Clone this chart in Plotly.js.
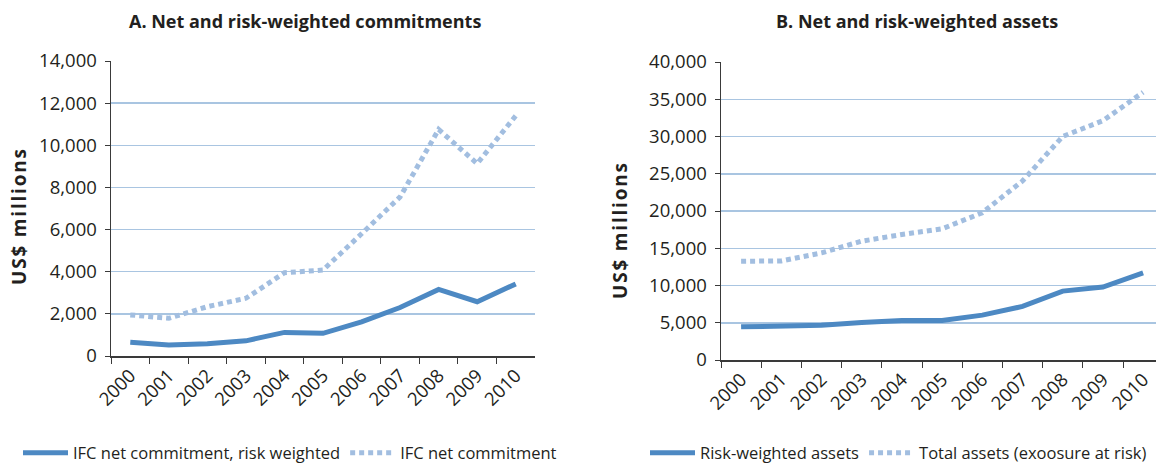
<!DOCTYPE html>
<html>
<head>
<meta charset="utf-8">
<script src="https://cdn.plot.ly/plotly-3.0.1.min.js"></script>
<style>
  html, body { margin: 0; padding: 0; background: #fff; overflow: hidden; }
  #chart { width: 1156px; height: 465px; }
</style>
</head>
<body>
<div id="chart"></div>
<script>
// ---- Data (US$ millions) ----
const years = ['2000','2001','2002','2003','2004','2005','2006','2007','2008','2009','2010'];

// Panel A: Net and risk-weighted commitments
const commitRiskWeighted = [650, 520, 585, 720, 1120, 1075, 1620, 2300, 3160, 2575, 3420];
const commitNet          = [1950, 1790, 2340, 2740, 3950, 4080, 5800, 7550, 10750, 9130, 11400];

// Panel B: Net and risk-weighted assets
const assetsRiskWeighted = [4450, 4630, 4670, 5030, 5300, 5300, 6020, 7190, 9250, 9790, 11680];
const assetsTotal        = [13250, 13300, 14380, 15950, 16850, 17610, 19770, 24030, 30010, 32120, 35940];

const titleA = 'A. Net and risk-weighted commitments';
const titleB = 'B. Net and risk-weighted assets';
const yTitle = 'US$ millions';
const nameA1 = 'IFC net commitment, risk weighted';
const nameA2 = 'IFC net commitment';
const nameB1 = 'Risk-weighted assets';
const nameB2 = 'Total assets (exoosure at risk)';

// ---- Styles ----
const W = 1156, H = 465;
const FONT = 'Open Sans, Noto Sans, sans-serif';
const TXT = '#231f20';
const SOLID = '#4d89c3';
const DOTTED = '#a2bee0';
const GRID = '#a9c5e1';
const AXIS = '#3a3a3a';

const px = v => v / W;
const py = v => (H - v) / H;

const traces = [
  { x: years, y: commitRiskWeighted, name: nameA1, type: 'scatter', mode: 'lines',
    line: { color: SOLID, width: 5 }, xaxis: 'x', yaxis: 'y', legend: 'legend' },
  { x: years, y: commitNet, name: nameA2, type: 'scatter', mode: 'lines',
    line: { color: DOTTED, width: 5, dash: '5px,4px' }, xaxis: 'x', yaxis: 'y', legend: 'legend' },
  { x: years, y: assetsRiskWeighted, name: nameB1, type: 'scatter', mode: 'lines',
    line: { color: SOLID, width: 5 }, xaxis: 'x2', yaxis: 'y2', legend: 'legend2' },
  { x: years, y: assetsTotal, name: nameB2, type: 'scatter', mode: 'lines',
    line: { color: DOTTED, width: 5, dash: '5px,4px' }, xaxis: 'x2', yaxis: 'y2', legend: 'legend2' }
];

const xCommon = {
  type: 'category', tickson: 'boundaries', ticks: 'outside', ticklen: 6, tickwidth: 1,
  tickcolor: AXIS, showline: true, linecolor: AXIS, linewidth: 1.5, showgrid: false,
  tickangle: -45, tickfont: { family: FONT, size: 18.5, color: TXT }, zeroline: false, fixedrange: true
};
const yCommon = {
  ticks: 'outside', ticklen: 5, tickwidth: 1, tickcolor: AXIS, showline: true,
  linecolor: AXIS, linewidth: 1.5, showgrid: true, gridcolor: GRID, gridwidth: 1.5,
  zeroline: false, tickformat: ',d', tickfont: { family: FONT, size: 18.5, color: TXT },
  ticklabelstandoff: 4, fixedrange: true
};

const layout = {
  width: W, height: H,
  margin: { l: 0, r: 0, t: 0, b: 0, autoexpand: false },
  paper_bgcolor: '#fff', plot_bgcolor: '#fff',
  font: { family: FONT, color: TXT },
  xaxis: Object.assign({}, xCommon, { domain: [px(111), px(535)], anchor: 'y', range: [-0.5, 10.5] }),
  yaxis: Object.assign({}, yCommon, { domain: [py(356), py(61)], anchor: 'x', range: [0, 14000], dtick: 2000 }),
  xaxis2: Object.assign({}, xCommon, { domain: [px(721), 1], anchor: 'y2', range: [-0.5, -0.5 + (W - 721) / 40.2] }),
  yaxis2: Object.assign({}, yCommon, { domain: [py(360), py(62)], anchor: 'x2', range: [0, 40000], dtick: 5000 }),
  showlegend: true,
  legend: {
    orientation: 'h', x: px(18), xanchor: 'left', y: py(453), yanchor: 'middle',
    font: { family: FONT, size: 16.5, color: TXT }, bgcolor: 'rgba(0,0,0,0)',
    itemwidth: 45, traceorder: 'normal'
  },
  legend2: {
    orientation: 'h', x: px(645), xanchor: 'left', y: py(453), yanchor: 'middle',
    font: { family: FONT, size: 16.5, color: TXT }, bgcolor: 'rgba(0,0,0,0)',
    itemwidth: 45, traceorder: 'normal'
  },
  annotations: [
    { text: '<b>' + titleA + '</b>', xref: 'paper', yref: 'paper', x: px(305), y: py(21),
      xanchor: 'center', yanchor: 'middle', showarrow: false, font: { family: FONT, size: 18, color: TXT } },
    { text: '<b>' + titleB + '</b>', xref: 'paper', yref: 'paper', x: px(917), y: py(21),
      xanchor: 'center', yanchor: 'middle', showarrow: false, font: { family: FONT, size: 18, color: TXT } },
    { text: '<span style="letter-spacing:1.8px"><b>' + yTitle + '</b></span>', xref: 'paper', yref: 'paper', x: px(19), y: py(216),
      xanchor: 'center', yanchor: 'middle', textangle: -90, showarrow: false, font: { family: FONT, size: 19, color: TXT } },
    { text: '<span style="letter-spacing:1.8px"><b>' + yTitle + '</b></span>', xref: 'paper', yref: 'paper', x: px(620), y: py(230),
      xanchor: 'center', yanchor: 'middle', textangle: -90, showarrow: false, font: { family: FONT, size: 19, color: TXT } }
  ]
};

Plotly.newPlot('chart', traces, layout, { displayModeBar: false, staticPlot: true });
</script>
</body>
</html>
